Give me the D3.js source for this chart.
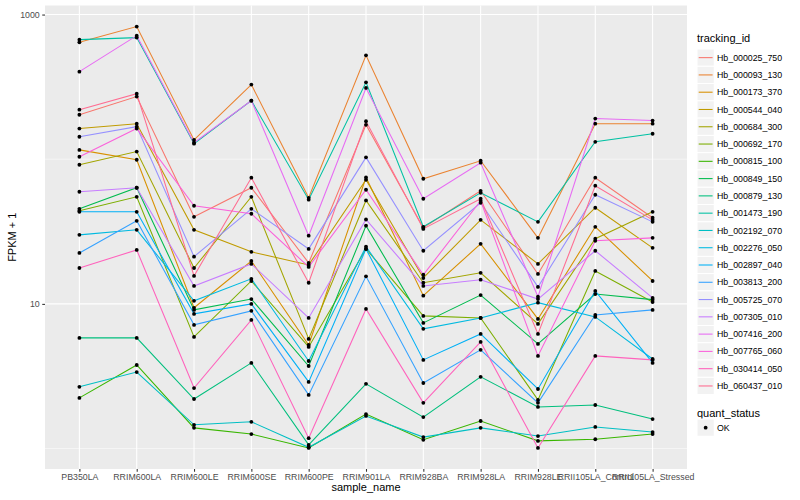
<!DOCTYPE html>
<html>
<head>
<meta charset="utf-8">
<script src="https://cdn.jsdelivr.net/npm/d3@7"></script>
<style>
  body { margin: 0; background: #fff; }
  text { font-family: "Liberation Sans", Arial, Helvetica, sans-serif; }
</style>
</head>
<body>
<svg id="chart"></svg>
<script>
// sample order on the x axis
const sampleNames = ["PB350LA", "RRIM600LA", "RRIM600LE", "RRIM600SE", "RRIM600PE", "RRIM901LA",
  "RRIM928BA", "RRIM928LA", "RRIM928LE", "RRII105LA_Control", "RRII105LA_Stressed"];

const trackingIds = ["Hb_000025_750", "Hb_000093_130", "Hb_000173_370", "Hb_000544_040", "Hb_000684_300",
  "Hb_000692_170", "Hb_000815_100", "Hb_000849_150", "Hb_000879_130", "Hb_001473_190", "Hb_002192_070",
  "Hb_002276_050", "Hb_002897_040", "Hb_003813_200", "Hb_005725_070", "Hb_007305_010", "Hb_007416_200",
  "Hb_007765_060", "Hb_030414_050", "Hb_060437_010"];

// FPKM + 1, one value per sample
const hb_000025_750 = [203, 271, 40.0, 63.5, 19.2, 173, 33.6, 60.5, 16.1, 74.5, 39.4];
const hb_000093_130 = [643, 826, 136, 328, 54.1, 523, 73.3, 97.6, 28.6, 176, 176];
const hb_000173_370 = [116, 99.2, 9.4, 19.8, 5.2, 74.8, 11.4, 26.0, 7.87, 34.1, 14.4];
const hb_000544_040 = [163, 176, 32.5, 22.9, 18.6, 72.1, 15.1, 38.1, 18.9, 46.2, 24.4];
const hb_000684_300 = [91.6, 113, 17.7, 55.0, 5.73, 51.9, 14.0, 16.4, 7.27, 28.2, 43.3];
const hb_000692_170 = [44.0, 55.0, 5.91, 14.4, 5.04, 24.0, 8.26, 8.0, 2.17, 16.9, 10.3];
const hb_000815_100 = [2.24, 3.78, 1.39, 1.26, 1.01, 1.73, 1.15, 1.55, 1.13, 1.16, 1.26];
const hb_000849_150 = [45.4, 63.5, 9.09, 10.8, 3.72, 34.7, 7.39, 11.5, 5.29, 11.7, 10.7];
const hb_000879_130 = [5.82, 5.82, 2.20, 3.91, 1.06, 2.80, 1.65, 3.13, 1.94, 2.00, 1.60];
const hb_001473_190 = [671, 693, 128, 254, 52.5, 340, 34.1, 58.6, 36.9, 132, 150];
const hb_002192_070 = [2.67, 3.38, 1.46, 1.53, 1.02, 1.68, 1.20, 1.39, 1.22, 1.41, 1.30];
const hb_002276_050 = [30.0, 32.5, 10.5, 14.9, 4.03, 24.9, 6.72, 8.0, 10.2, 8.13, 4.16];
const hb_002897_040 = [43.3, 43.3, 8.53, 10.0, 2.89, 24.0, 4.10, 6.20, 2.58, 12.3, 3.91];
const hb_003813_200 = [22.5, 37.5, 7.16, 8.95, 2.35, 15.5, 2.84, 4.81, 2.07, 8.39, 9.09];
const hb_005725_070 = [143, 168, 21.2, 45.4, 24.0, 103, 23.3, 50.0, 13.1, 56.8, 36.9];
const hb_007305_010 = [59.6, 63.5, 13.3, 18.9, 8.0, 38.3, 13.3, 14.7, 10.8, 23.3, 11.0];
const hb_007416_200 = [403, 715, 130, 254, 29.6, 311, 53.3, 94.6, 11.2, 191, 185];
const hb_007765_060 = [104, 163, 47.7, 42.0, 18.0, 61.5, 15.9, 51.6, 4.37, 27.3, 28.6];
const hb_030414_050 = [17.7, 23.6, 2.62, 7.75, 1.18, 9.23, 2.07, 5.46, 1.01, 4.37, 4.10];
const hb_060437_010 = [220, 284, 15.6, 74.5, 14.0, 183, 33.0, 53.3, 6.20, 65.6, 38.1];

const fpkm = [hb_000025_750, hb_000093_130, hb_000173_370, hb_000544_040, hb_000684_300,
  hb_000692_170, hb_000815_100, hb_000849_150, hb_000879_130, hb_001473_190, hb_002192_070,
  hb_002276_050, hb_002897_040, hb_003813_200, hb_005725_070, hb_007305_010, hb_007416_200,
  hb_007765_060, hb_030414_050, hb_060437_010];

const yTicks = [10, 1000];
const yMinor = [1, 100];
const quantStatus = ["OK"];

// ggplot default hue palette for 20 levels
const palette = ["#F8766D", "#EA8331", "#D89000", "#C09B00", "#A3A500", "#7CAE00", "#39B600", "#00BB4E",
  "#00BF7D", "#00C1A3", "#00BFC4", "#00BAE0", "#00B0F6", "#35A2FF", "#9590FF", "#C77CFF", "#E76BF3",
  "#FA62DB", "#FF62BC", "#FF6C91"];

const width = 800, height = 500;
const panel = { left: 45, right: 687, top: 5.5, bottom: 469 };

const svg = d3.select("#chart").attr("width", width).attr("height", height);

const series = trackingIds.map((id, i) => ({
  id: id,
  color: palette[i],
  values: sampleNames.map((s, j) => ({ sample: s, value: fpkm[i][j] }))
}));

const x = d3.scalePoint().domain(sampleNames).range([panel.left, panel.right]).padding(0.6);

const all = fpkm.flat();
const lo = Math.log10(d3.min(all)), hi = Math.log10(d3.max(all));
const pad = (hi - lo) * 0.05;
const y = d3.scaleLog().domain([Math.pow(10, lo - pad), Math.pow(10, hi + pad)])
  .range([panel.bottom, panel.top]);

// panel background + grid
svg.append("rect")
  .attr("x", panel.left).attr("y", panel.top)
  .attr("width", panel.right - panel.left).attr("height", panel.bottom - panel.top)
  .attr("fill", "#EBEBEB");

svg.append("g").selectAll("line").data(yMinor).enter().append("line")
  .attr("x1", panel.left).attr("x2", panel.right)
  .attr("y1", d => y(d)).attr("y2", d => y(d))
  .attr("stroke", "#fff").attr("stroke-width", 0.53);

svg.append("g").selectAll("line").data(yTicks).enter().append("line")
  .attr("x1", panel.left).attr("x2", panel.right)
  .attr("y1", d => y(d)).attr("y2", d => y(d))
  .attr("stroke", "#fff").attr("stroke-width", 1.07);

svg.append("g").selectAll("line").data(sampleNames).enter().append("line")
  .attr("x1", d => x(d)).attr("x2", d => x(d))
  .attr("y1", panel.top).attr("y2", panel.bottom)
  .attr("stroke", "#fff").attr("stroke-width", 1.07);

// lines
const line = d3.line().x(d => x(d.sample)).y(d => y(d.value));

svg.append("g").selectAll("path").data(series).enter().append("path")
  .attr("d", d => line(d.values))
  .attr("fill", "none")
  .attr("stroke", d => d.color)
  .attr("stroke-width", 1.07);

// points
svg.append("g").selectAll("g").data(series).enter().append("g")
  .selectAll("circle").data(d => d.values).enter().append("circle")
  .attr("cx", d => x(d.sample)).attr("cy", d => y(d.value))
  .attr("r", 1.9).attr("fill", "#000");

// axes
const xAxis = svg.append("g")
  .attr("transform", `translate(0,${panel.bottom})`)
  .call(d3.axisBottom(x).tickSize(2.75).tickPadding(2.5));
const yAxis = svg.append("g")
  .attr("transform", `translate(${panel.left},0)`)
  .call(d3.axisLeft(y).tickValues(yTicks).tickFormat(d3.format("d")).tickSize(2.75).tickPadding(2.5));

[xAxis, yAxis].forEach(a => {
  a.select(".domain").remove();
  a.selectAll(".tick line").attr("stroke", "#333333").attr("stroke-width", 1.07);
  a.selectAll(".tick text").attr("fill", "#4D4D4D").style("font-size", "8.8px")
    .style("font-family", "'Liberation Sans', Arial, sans-serif");
});

svg.append("text")
  .attr("x", (panel.left + panel.right) / 2).attr("y", 491)
  .attr("text-anchor", "middle").style("font-size", "11px").attr("fill", "#000")
  .text("sample_name");

svg.append("text")
  .attr("transform", `translate(16,${(panel.top + panel.bottom) / 2}) rotate(-90)`)
  .attr("text-anchor", "middle").style("font-size", "11px").attr("fill", "#000")
  .text("FPKM + 1");

// legend: tracking_id
const lg = svg.append("g").attr("transform", "translate(697,0)");
lg.append("text").attr("x", 0).attr("y", 42).style("font-size", "11px").text("tracking_id");

const keyH = 17.28, keyTop = 49;
const keys = lg.selectAll("g.key").data(series).enter().append("g")
  .attr("class", "key")
  .attr("transform", (d, i) => `translate(0,${keyTop + i * keyH})`);
keys.append("rect").attr("width", keyH).attr("height", keyH)
  .attr("fill", "#F2F2F2").attr("stroke", "#fff").attr("stroke-width", 1);
keys.append("line").attr("x1", 1.7).attr("x2", keyH - 1.7)
  .attr("y1", keyH / 2).attr("y2", keyH / 2)
  .attr("stroke", d => d.color).attr("stroke-width", 1.07);
keys.append("text").attr("x", 20).attr("y", keyH / 2).attr("dy", "0.35em")
  .style("font-size", "8.8px").text(d => d.id);

// legend: quant_status
const lq = svg.append("g").attr("transform", "translate(697,0)");
lq.append("text").attr("x", 0).attr("y", 417).style("font-size", "11px").text("quant_status");
const qk = lq.selectAll("g.qk").data(quantStatus).enter().append("g")
  .attr("transform", (d, i) => `translate(0,${419 + i * keyH})`);
qk.append("rect").attr("width", keyH).attr("height", keyH)
  .attr("fill", "#F2F2F2").attr("stroke", "#fff");
qk.append("circle").attr("cx", keyH / 2).attr("cy", keyH / 2).attr("r", 1.9).attr("fill", "#000");
qk.append("text").attr("x", 20).attr("y", keyH / 2).attr("dy", "0.35em")
  .style("font-size", "8.8px").text(d => d);
</script>
</body>
</html>
